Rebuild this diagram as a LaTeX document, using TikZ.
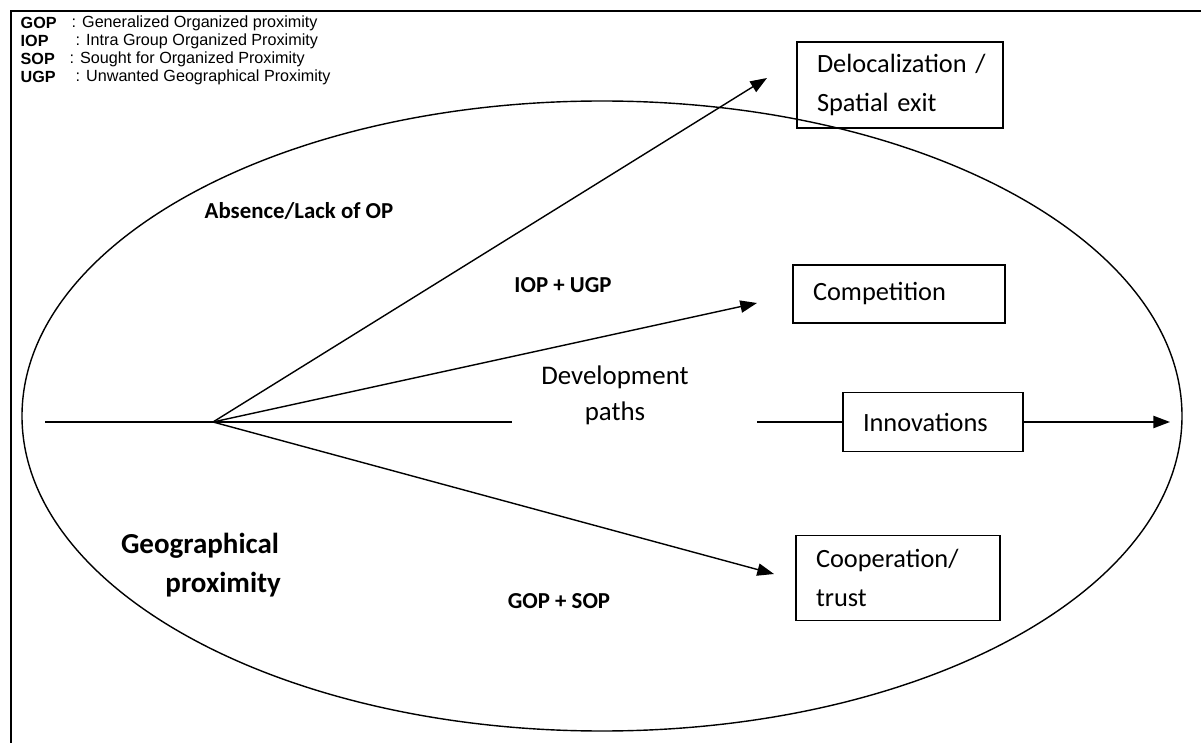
\documentclass[tikz,border=0pt]{standalone}
\usepackage{fontspec}
\setmainfont{Carlito}
\newfontfamily\legendfont{Liberation Sans}
\usetikzlibrary{arrows.meta,positioning}

\begin{document}
\begin{tikzpicture}[x=0.02cm,y=-0.02cm,line width=0.8pt,>={Triangle[length=9.5pt,width=7pt]},
  every node/.style={inner sep=0pt},
  boxnode/.style={draw,line width=0.8pt,align=left,inner xsep=0.4cm,font=\fontsize{15}{22}\selectfont},
  lbl/.style={font=\fontsize{13}{15}\selectfont\bfseries},
  keyname/.style={anchor=west,font=\legendfont\fontsize{9.2}{10}\selectfont\bfseries},
  keytext/.style={anchor=west,font=\legendfont\fontsize{9.2}{10}\selectfont}]
\useasboundingbox (0,0) rectangle (1201,743);

% frame and region
\draw[line width=1.4pt] (11,743) -- (11,11) -- (1201,11);
\draw (602,416) ellipse [x radius=580, y radius=315];

% legend
\node[keyname] (kgop) at (20,23) {GOP};
\node[keyname] (kiop) at (20,41) {IOP};
\node[keyname] (ksop) at (20,59) {SOP};
\node[keyname] (kugp) at (20,77) {UGP};
\node[keytext] (dgop) at (71,23) {: Generalized Organized proximity};
\node[keytext] (diop) at (75,41) {: Intra Group Organized Proximity};
\node[keytext] (dsop) at (69,59) {: Sought for Organized Proximity};
\node[keytext] (dugp) at (75,77) {: Unwanted Geographical Proximity};

% outcomes
\node[boxnode,text width=3.32cm,minimum height=1.72cm] (deloc) at (900,85) {Delocalization~/\\Spatial exit};
\node[boxnode,text width=3.44cm,minimum height=1.16cm] (compet) at (899,294) {Competition};
\node[boxnode,text width=2.8cm,minimum height=1.18cm] (innov) at (933,422) {Innovations};
\node[boxnode,text width=3.28cm,minimum height=1.70cm] (coop) at (898,578) {Cooperation/\\trust};

% paths
\coordinate (start) at (45,422);
\coordinate (fork) at (213,422);
\coordinate (gapL) at (512,422);
\coordinate (gapR) at (757,422);
\coordinate (exit) at (1170,422);
\coordinate (delocEnd) at (767,78);
\coordinate (competEnd) at (757,303);
\coordinate (coopEnd) at (774,574);

\node[align=center,font=\fontsize{15.3}{20.5}\selectfont] (dev) at (615,395) {Development\\paths};
\node[align=center,font=\fontsize{16.5}{22}\selectfont\bfseries] (geo) at (200,565) {Geographical\\\hspace*{1.6em}proximity};

\draw (start) -- (gapL);
\draw (gapR) -- (innov);
\draw[->] (innov) -- (exit);
\draw[->] (fork) -- (delocEnd);
\draw[->] (fork) -- (competEnd);
\draw[->] (fork) -- (coopEnd);

\node[lbl] (absent) at (299,211) {Absence/Lack of OP};
\node[lbl] (iopugp) at (563,285) {IOP + UGP};
\node[lbl] (gopsop) at (559,601) {GOP + SOP};
\end{tikzpicture}
\end{document}
